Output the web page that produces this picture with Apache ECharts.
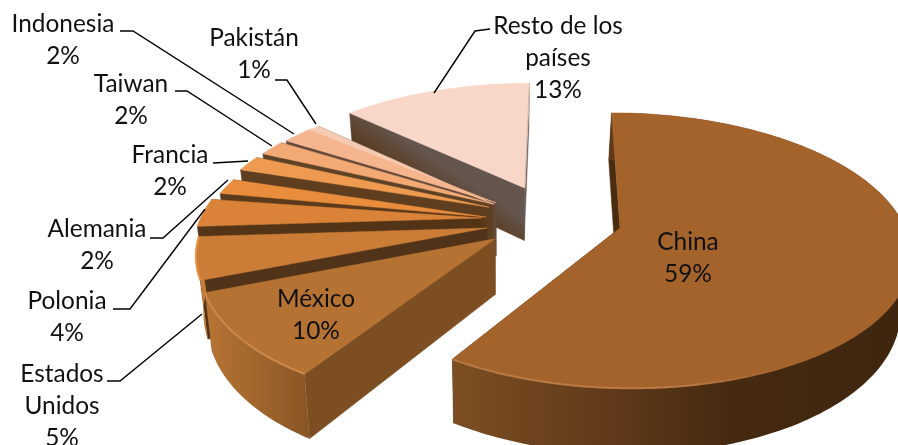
<!DOCTYPE html>
<html>
<head>
<meta charset="utf-8">
<style>html,body{margin:0;padding:0;background:#fff;overflow:hidden}#c{width:898px;height:445px}</style>
<script src="https://cdn.jsdelivr.net/npm/echarts@6/dist/echarts.min.js"></script>
</head>
<body>
<div id="c"></div>
<script>
// Data: counter-clockwise from the top of the pie (also back-to-front drawing order)
const categories = ['Resto de los\npaíses','Pakistán','Indonesia','Taiwan','Francia','Alemania','Polonia','Estados\nUnidos','México','China'];
const values = [13,1,2,2,2,2,4,5,10,59];

// Style: per-slice explosion (apex position on the pie plane) and visual gap at the slice's upper edge
const apexX = [523,492,494,491,487,485,481,487,496,620];
const apexY = [-0.313,-0.183,-0.194,-0.184,-0.16,-0.083,-0.075,0,0.08,0];
const upperGap = [0,0,0,0.6,0.6,0.6,2.4,0,0,0];
const topColors = ['#F8D7C9','#F6CBB3','#F5B68F','#F3A974','#EE9A50','#E98D3D','#DA8338','#CB7C37','#B57233','#A5632C'];
const wallColors = ['#64554F','#6A5145','#64493A','#5E4226','#5F3E20','#5A3A1A','#543417','#51331A','#7C4E22','#4A2C10'];
const outerWall = [
  [[0,'#D8BDB2'],[1,'#D8BDB2']],[[0,'#F6BE9E'],[1,'#F6BE9E']],[[0,'#F3AB80'],[1,'#F3AB80']],
  [[0,'#F09C62'],[1,'#F09C62']],[[0,'#EC9045'],[1,'#EC9045']],[[0,'#E88A38'],[1,'#E88A38']],
  [[0,'#E68A38'],[1,'#E68A38']],[[0,'#E2883A'],[1,'#C87A36']],
  [[0,'#B87434'],[0.5,'#A0652C'],[1,'#885424']],
  [[0,'#7C4E22'],[0.35,'#623A1A'],[0.62,'#452A10'],[1,'#3F260F']]
];
const highlight = ['#E4C8BC','#F8D6C2','#F7C4A4','#F5B587','#F0A464','#EDA052','#E9983F','#E8963F','#D08C4C','#BE7E48'];
// Label layout
const labelPos = [[558,58],[254,54],[63,40],[131,100],[170,171],[97,245],[67,317],[62,406],[316,315],[688,258]];
const leaders = [
  [[490,29],[475,31],[434,93]],
  [[275,80],[287,80],[316,124]],
  [[120,31],[133,31],[294,134]],
  [[175,91],[187,91],[272,146]],
  [[213,163],[248,161]],
  [[150,238],[163,238],[228,180]],
  [[113,309],[130,309],[205,209]],
  [[107,381],[120,381],[202,314]],
  null, null
];

// Projection of the tilted pie
const XC=560, YC=228, P=0.164, RX=285, RY=134, H=55, XQ=500, Q=0.025;
const WALL_LIMIT=266.5, RIM_LIMIT=95;
function project(X, yw, z){
  const s = 1/(1-P*yw);
  let sx = XC+(X-XC)*s;
  const sy = YC+(RY*yw+H*z)*s;
  sx += (XQ-sx)*Q*z;
  return [sx,sy];
}
function rimPoint(i, deg, z){
  const t = deg*Math.PI/180;
  return project(apexX[i]+RX*Math.sin(t), apexY[i]-Math.cos(t), z);
}
function arc(i, a0, a1, z){
  const pts=[], n=Math.max(2,Math.ceil(Math.abs(a1-a0)));
  for(let k=0;k<=n;k++) pts.push(rimPoint(i,a0+(a1-a0)*k/n,z));
  return pts;
}
const total = values.reduce((a,b)=>a+b,0);
function sliceAngles(i){
  let acc=0; for(let k=0;k<i;k++) acc+=values[k];
  const end = 360-acc/total*360;
  return [end-values[i]/total*360, end-upperGap[i]];
}
function hGrad(stops,x0,x1){
  return {type:'linear',global:true,x:x0,y:0,x2:x1,y2:0,
    colorStops:stops.map(s=>({offset:s[0],color:s[1]}))};
}

function renderItem(params, api){
  const i=params.dataIndex, v=api.value(0);
  const [a0,a1]=sliceAngles(i);
  const apexTop=project(apexX[i],apexY[i],0), apexBot=project(apexX[i],apexY[i],1);
  const top=arc(i,a0,a1,0), bot=arc(i,a0,a1,1);
  const children=[];
  const wallFill = i===0
    ? {type:'linear',global:true,x:485,y:235,x2:505,y2:205,colorStops:[{offset:0,color:'#553A20'},{offset:0.5,color:'#5E4632'},{offset:1,color:'#64554F'}]}
    : wallColors[i];
  const face=(pRimTop,pRimBot)=>({type:'polygon',z2:1,shape:{points:[apexTop,pRimTop,pRimBot,apexBot]},
    style:{fill:wallFill,stroke:wallFill,lineWidth:0.5}});
  children.push(face(top[top.length-1],bot[bot.length-1]));
  children.push(face(top[0],bot[0]));
  // outer curved wall: only the part facing the viewer
  const frontEnd=Math.min(a1,WALL_LIMIT);
  if(a0<WALL_LIMIT-0.5){
    const frontX = arc(i,a0,frontEnd,0).map(p=>p[0]);
    const frontX0 = i===9 ? 452 : Math.min.apply(null,frontX), frontX1 = i===9 ? 898 : (i===8?312:Math.max.apply(null,frontX)+1);
    const wt=arc(i,a0,frontEnd,0), wb=arc(i,a0,frontEnd,1);
    children.push({type:'polygon',z2:2,shape:{points:wt.concat(wb.reverse())},
      style:{fill:hGrad(outerWall[i],frontX0,frontX1),lineWidth:0}});
  }
  // top face
  children.push({type:'polygon',z2:3,shape:{points:[apexTop].concat(top)},
    style:{fill:topColors[i],stroke:topColors[i],lineWidth:0.5}});
  // bevel highlight on the front rim
  if(a0<WALL_LIMIT-0.5 && i>=7){
    const frontX = arc(i,a0,frontEnd,0).map(p=>p[0]);
    const frontX0 = i===9 ? 452 : Math.min.apply(null,frontX), frontX1 = i===9 ? 898 : (i===8?312:Math.max.apply(null,frontX)+1);
    const rimFade = i===9 ? [[0,highlight[i]],[0.5,highlight[i]],[0.75,topColors[i]],[1,topColors[i]]] : [[0,highlight[i]],[1,highlight[i]]];
    children.push({type:'polyline',z2:4,shape:{points:arc(i,Math.max(a0,RIM_LIMIT),frontEnd,0)},
      style:{fill:null,stroke:hGrad(rimFade,frontX0,frontX1),lineWidth:2,opacity:0.85}});
  }
  if(i===0){
    children.push({type:'polyline',z2:4,shape:{points:[apexTop,top[top.length-1]]},
      style:{fill:null,stroke:'#D3B9AE',lineWidth:1.2}});
  }
  // leader
  if(leaders[i]) children.push({type:'polyline',z2:20,shape:{points:leaders[i]},
    style:{fill:null,stroke:'#000',lineWidth:1.4}});
  // label
  children.push({type:'text',z2:21,x:labelPos[i][0],y:labelPos[i][1],
    style:{text:categories[i]+'\n'+v+'%',fill:'#111',fontFamily:'Lato',fontSize:24.4,lineHeight:32,align:'center',verticalAlign:'middle'}});
  return {type:'group',children};
}

const chart=echarts.init(document.getElementById('c'),null,{renderer:'canvas',width:898,height:445});
chart.setOption({
  animation:false,
  backgroundColor:'#fff',
  series:[{type:'custom',coordinateSystem:'none',silent:true,clip:false,renderItem,data:values.map(v=>[v])}]
});
</script>
</body>
</html>
